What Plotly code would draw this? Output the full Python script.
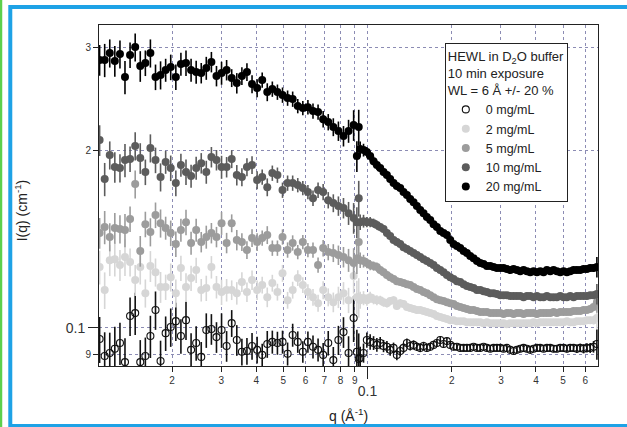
import plotly.graph_objects as go

# ---------------- data ----------------
q_low = [0.01102, 0.01149, 0.01198, 0.01249, 0.01303, 0.01358, 0.01416, 0.01477, 0.01540, 0.01606,
         0.01674, 0.01746, 0.01820, 0.01898, 0.01979, 0.02064, 0.02152, 0.02244, 0.02340, 0.02440,
         0.02544, 0.02652, 0.02766, 0.02884, 0.03007, 0.03135, 0.03269, 0.03409, 0.03555, 0.03706,
         0.03865, 0.04030, 0.04202, 0.04381, 0.04568, 0.04763, 0.04967, 0.05179, 0.05400, 0.05631,
         0.05871, 0.06122, 0.06384, 0.06656, 0.06941, 0.07237, 0.07546, 0.07869, 0.08205, 0.08555,
         0.08921, 0.09302]

q_high = [0.0916, 0.09415, 0.09677, 0.09946, 0.1022, 0.1051, 0.1080, 0.1110, 0.1141, 0.1173,
          0.1205, 0.1239, 0.1273, 0.1309, 0.1345, 0.1383, 0.1421, 0.1461, 0.1501, 0.1543,
          0.1586, 0.1630, 0.1676, 0.1722, 0.1770, 0.1820, 0.1870, 0.1922, 0.1976, 0.2031,
          0.2087, 0.2145, 0.2205, 0.2266, 0.2329, 0.2394, 0.2461, 0.2529, 0.2600, 0.2672,
          0.2746, 0.2823, 0.2901, 0.2982, 0.3065, 0.3150, 0.3238, 0.3328, 0.3420, 0.3515,
          0.3613, 0.3714, 0.3817, 0.3923, 0.4032, 0.4144, 0.4260, 0.4378, 0.4500, 0.4625,
          0.4754, 0.4886, 0.5022, 0.5161, 0.5305, 0.5452, 0.5604, 0.5760, 0.5920, 0.6085,
          0.6254, 0.6428, 0.6607]

I0_low = [0.0957, 0.0895, 0.0906, 0.0921, 0.0942, 0.0874, 0.1047, 0.1059, 0.0874, 0.0895,
          0.0968, 0.1072, 0.0878, 0.0979, 0.1003, 0.1026, 0.0968, 0.1030, 0.0917, 0.0942,
          0.0892, 0.0991, 0.0995, 0.0964, 0.0991, 0.0931, 0.1018, 0.0953, 0.0910, 0.0913,
          0.0931, 0.0917, 0.0899, 0.0938, 0.0946, 0.0942, 0.0946, 0.0903, 0.0972, 0.0946,
          0.0910, 0.0946, 0.0928, 0.0917, 0.0899, 0.0942, 0.0881, 0.0953, 0.0983, 0.0906,
          0.1039, 0.0885]
I0_high = [0.0910, 0.0888, 0.0906, 0.0953, 0.0946, 0.0942, 0.0935, 0.0942, 0.0931, 0.0928,
           0.0917, 0.0924, 0.0899, 0.0913, 0.0924, 0.0942, 0.0931, 0.0935, 0.0928, 0.0924,
           0.0931, 0.0924, 0.0928, 0.0935, 0.0942, 0.0953, 0.0938, 0.0949, 0.0935, 0.0928,
           0.0928, 0.0924, 0.0924, 0.0924, 0.0924, 0.0928, 0.0924, 0.0924, 0.0928, 0.0924,
           0.0921, 0.0924, 0.0924, 0.0924, 0.0921, 0.0924, 0.0917, 0.0913, 0.0917, 0.0921,
           0.0924, 0.0921, 0.0917, 0.0921, 0.0924, 0.0924, 0.0921, 0.0924, 0.0924, 0.0921,
           0.0921, 0.0924, 0.0924, 0.0921, 0.0924, 0.0924, 0.0921, 0.0924, 0.0921, 0.0924,
           0.0924, 0.0928, 0.0938]

I2_low = [0.1268, 0.1159, 0.1303, 0.1308, 0.1278, 0.1319, 0.1293, 0.1205, 0.1268, 0.1145,
          0.1273, 0.1243, 0.1173, 0.1173, 0.1219, 0.1145, 0.1263, 0.1173, 0.1215, 0.1253,
          0.1159, 0.1168, 0.1268, 0.1173, 0.1150, 0.1159, 0.1159, 0.1145, 0.1196, 0.1150,
          0.1205, 0.1159, 0.1182, 0.1127, 0.1191, 0.1150, 0.1238, 0.1114, 0.1159, 0.1215,
          0.1182, 0.1150, 0.1127, 0.1101, 0.1159, 0.1127, 0.1105, 0.1127, 0.1145, 0.1114,
          0.1224, 0.1127]
I2_high = [0.1127, 0.1114, 0.1123, 0.1114, 0.1127, 0.1118, 0.1114, 0.1114, 0.1105, 0.1101,
           0.1110, 0.1114, 0.1089, 0.1101, 0.1097, 0.1084, 0.1080, 0.1076, 0.1072, 0.1072,
           0.1068, 0.1064, 0.1059, 0.1055, 0.1047, 0.1043, 0.1039, 0.1035, 0.1030, 0.1030,
           0.1026, 0.1026, 0.1026, 0.1022, 0.1022, 0.1022, 0.1022, 0.1022, 0.1018, 0.1022,
           0.1018, 0.1018, 0.1018, 0.1018, 0.1018, 0.1014, 0.1018, 0.1018, 0.1018, 0.1018,
           0.1018, 0.1018, 0.1018, 0.1022, 0.1018, 0.1022, 0.1022, 0.1022, 0.1022, 0.1022,
           0.1022, 0.1022, 0.1022, 0.1026, 0.1022, 0.1022, 0.1026, 0.1026, 0.1026, 0.1030,
           0.1030, 0.1030, 0.1039]

I5_low = [0.1449, 0.1483, 0.1427, 0.1478, 0.1472, 0.1466, 0.1531, 0.1755, 0.1351, 0.1500,
          0.1455, 0.1555, 0.1506, 0.1478, 0.1449, 0.1388, 0.1466, 0.1512, 0.1394, 0.1466,
          0.1399, 0.1427, 0.1449, 0.1427, 0.1506, 0.1394, 0.1506, 0.1410, 0.1399, 0.1356,
          0.1421, 0.1399, 0.1421, 0.1438, 0.1366, 0.1366, 0.1427, 0.1356, 0.1394, 0.1345,
          0.1399, 0.1356, 0.1356, 0.1278, 0.1366, 0.1345, 0.1340, 0.1329, 0.1319, 0.1303,
          0.1288, 0.1399]
I5_high = [0.1313, 0.1303, 0.1298, 0.1288, 0.1278, 0.1273, 0.1268, 0.1253, 0.1243, 0.1229,
           0.1219, 0.1210, 0.1200, 0.1196, 0.1191, 0.1186, 0.1182, 0.1173, 0.1164, 0.1159,
           0.1150, 0.1145, 0.1136, 0.1127, 0.1118, 0.1114, 0.1110, 0.1105, 0.1101, 0.1097,
           0.1089, 0.1084, 0.1080, 0.1076, 0.1072, 0.1072, 0.1068, 0.1064, 0.1064, 0.1064,
           0.1059, 0.1059, 0.1059, 0.1059, 0.1055, 0.1059, 0.1059, 0.1055, 0.1059, 0.1059,
           0.1055, 0.1059, 0.1059, 0.1059, 0.1055, 0.1059, 0.1059, 0.1059, 0.1059, 0.1064,
           0.1059, 0.1064, 0.1064, 0.1064, 0.1064, 0.1068, 0.1068, 0.1068, 0.1072, 0.1072,
           0.1076, 0.1084, 0.1105]

I10_low = [0.2085, 0.1790, 0.1966, 0.1876, 0.1869, 0.1928, 0.1936, 0.2037, 0.1943, 0.1840,
           0.2021, 0.1928, 0.1804, 0.1913, 0.1869, 0.1762, 0.1891, 0.1840, 0.1811, 0.1869,
           0.1905, 0.1840, 0.1951, 0.1928, 0.1876, 0.1876, 0.1936, 0.1818, 0.1804, 0.1876,
           0.1891, 0.1783, 0.1804, 0.1734, 0.1832, 0.1818, 0.1714, 0.1762, 0.1762, 0.1748,
           0.1728, 0.1701, 0.1661, 0.1714, 0.1701, 0.1648, 0.1629, 0.1611, 0.1598, 0.1566,
           0.1537, 0.1661]
I10_high = [0.1512, 0.1512, 0.1518, 0.1512, 0.1512, 0.1506, 0.1495, 0.1483, 0.1472, 0.1449,
            0.1432, 0.1410, 0.1399, 0.1388, 0.1371, 0.1361, 0.1351, 0.1340, 0.1329, 0.1319,
            0.1308, 0.1298, 0.1288, 0.1278, 0.1263, 0.1253, 0.1243, 0.1229, 0.1219, 0.1210,
            0.1200, 0.1196, 0.1186, 0.1177, 0.1173, 0.1168, 0.1159, 0.1159, 0.1154, 0.1150,
            0.1145, 0.1145, 0.1141, 0.1136, 0.1136, 0.1136, 0.1132, 0.1132, 0.1132, 0.1132,
            0.1127, 0.1132, 0.1132, 0.1127, 0.1132, 0.1127, 0.1127, 0.1132, 0.1127, 0.1127,
            0.1127, 0.1132, 0.1127, 0.1127, 0.1132, 0.1127, 0.1132, 0.1132, 0.1132, 0.1132,
            0.1136, 0.1136, 0.1141]

I20_low = [0.2853, 0.2853, 0.2931, 0.2842, 0.2920, 0.2669, 0.2909, 0.3001, 0.2786, 0.2820,
           0.2931, 0.2669, 0.2690, 0.2743, 0.2775, 0.2669, 0.2809, 0.2820, 0.2743, 0.2722,
           0.2711, 0.2764, 0.2831, 0.2680, 0.2711, 0.2743, 0.2659, 0.2606, 0.2680, 0.2722,
           0.2596, 0.2556, 0.2637, 0.2516, 0.2546, 0.2516, 0.2487, 0.2458, 0.2448, 0.2382,
           0.2363, 0.2372, 0.2336, 0.2327, 0.2263, 0.2237, 0.2194, 0.2160, 0.2118, 0.2160,
           0.2211, 0.2194]
I20_high = [0.1958, 0.2013, 0.2005, 0.1989, 0.1958, 0.1920, 0.1891, 0.1869, 0.1840, 0.1818,
            0.1790, 0.1762, 0.1741, 0.1728, 0.1701, 0.1681, 0.1655, 0.1635, 0.1611, 0.1585,
            0.1566, 0.1543, 0.1524, 0.1500, 0.1483, 0.1460, 0.1449, 0.1438, 0.1410, 0.1388,
            0.1377, 0.1366, 0.1351, 0.1340, 0.1324, 0.1313, 0.1298, 0.1288, 0.1283, 0.1273,
            0.1273, 0.1268, 0.1263, 0.1263, 0.1263, 0.1258, 0.1253, 0.1258, 0.1253, 0.1248,
            0.1253, 0.1248, 0.1243, 0.1248, 0.1243, 0.1248, 0.1243, 0.1253, 0.1248, 0.1253,
            0.1248, 0.1243, 0.1248, 0.1243, 0.1248, 0.1253, 0.1253, 0.1253, 0.1258, 0.1258,
            0.1263, 0.1263, 0.1268]

# relative uncertainties (%) read from error-bar lengths
err_low_pct = [6.0, 6.5, 5.5, 6.0, 5.5, 6.5, 5.0, 5.5, 6.0, 5.0,
               5.5, 5.0, 5.5, 4.5, 5.0, 5.0, 4.5, 5.0, 4.5, 4.5,
               4.0, 4.5, 4.0, 4.0, 4.5, 4.0, 3.5, 4.0, 3.5, 3.5,
               3.5, 3.5, 3.0, 3.5, 3.0, 3.0, 3.0, 3.0, 3.0, 2.8,
               2.8, 2.8, 3.0, 3.0, 3.2, 3.2, 3.5, 3.8, 4.0, 4.5,
               6.0, 7.0]
err_high_pct = [6.0, 3.0, 2.5, 2.0, 2.0, 1.8, 1.8, 1.6, 1.6, 1.5,
                1.5, 1.4, 1.4, 1.3, 1.3, 1.2, 1.2, 1.2, 1.1, 1.1,
                1.1, 1.0, 1.0, 1.0, 1.0, 1.0, 0.9, 0.9, 0.9, 0.9,
                0.9, 0.9, 0.9, 0.8, 0.8, 0.8, 0.8, 0.8, 0.8, 0.8,
                0.8, 0.8, 0.8, 0.8, 0.8, 0.8, 0.8, 0.8, 0.8, 0.8,
                0.8, 0.8, 0.8, 0.8, 0.8, 0.8, 0.8, 0.9, 0.9, 0.9,
                0.9, 0.9, 1.0, 1.0, 1.0, 1.0, 1.1, 1.1, 1.2, 1.2,
                1.3, 1.5, 4.0]

labels = ["0 mg/mL", "2 mg/mL", "5 mg/mL", "10 mg/mL", "20 mg/mL"]
series_low = [I0_low, I2_low, I5_low, I10_low, I20_low]
series_high = [I0_high, I2_high, I5_high, I10_high, I20_high]
err_scale = [1.5, 1.1, 1.0, 1.0, 1.0]

x_ticks = [0.02, 0.03, 0.04, 0.05, 0.06, 0.07, 0.08, 0.09, 0.1, 0.2, 0.3, 0.4, 0.5, 0.6]
x_ticktext = ["2", "3", "4", "5", "6", "7", "8", "9", "", "2", "3", "4", "5", "6"]
y_ticks = [0.09, 0.1, 0.2, 0.3]
y_ticktext = ["9", "", "2", "3"]

# ---------------- styling ----------------
colors = ["#000000", "#d6d6d6", "#9c9c9c", "#5c5c5c", "#000000"]
FONT = "Liberation Sans, Arial, sans-serif"
GRID = "#8c8cb4"

fig = go.Figure()
for k in range(5):
    qv = q_low + q_high
    iv = series_low[k] + series_high[k]
    pv = err_low_pct + err_high_pct
    ev = [v * p / 100.0 * err_scale[k] for v, p in zip(iv, pv)]
    if k == 0:
        marker = dict(symbol="circle-open", size=7, color="#111111", line=dict(width=1.1))
    else:
        marker = dict(symbol="circle", size=8, color=colors[k], line=dict(width=0))
    # the top series also carries the overlay axes that hold the larger "0.1" labels
    axes = dict(xaxis="x2", yaxis="y2") if k == 4 else {}
    fig.add_trace(go.Scatter(
        x=qv, y=iv, mode="markers", name=labels[k], marker=marker,
        error_y=dict(type="data", array=ev, visible=True, color=colors[k] if k else "#111111",
                     thickness=1.6, width=0),
        **axes,
    ))

xr = [-1.960, -0.176]
yr = [-1.0651, -0.4852]

fig.update_layout(
    width=627, height=427,
    margin=dict(l=99, r=29, t=25, b=61),
    paper_bgcolor="white", plot_bgcolor="white",
    font=dict(family=FONT, color="#222222"),
    xaxis=dict(type="log", range=xr, tickmode="array", tickvals=x_ticks, ticktext=x_ticktext,
               ticks="outside", ticklen=5, tickwidth=1, tickcolor="#222",
               tickfont=dict(size=10, family=FONT, color="#333"),
               showgrid=True, gridcolor=GRID, griddash="dot", gridwidth=1,
               showline=True, linecolor="#222", linewidth=1, mirror=True, zeroline=False),
    yaxis=dict(type="log", range=yr, tickmode="array", tickvals=y_ticks, ticktext=y_ticktext,
               ticks="outside", ticklen=5, tickwidth=1, tickcolor="#222",
               tickfont=dict(size=10, family=FONT, color="#333"),
               showgrid=True, gridcolor=GRID, griddash="dot", gridwidth=1,
               showline=True, linecolor="#222", linewidth=1, mirror=True, zeroline=False),
    xaxis2=dict(type="log", range=xr, overlaying="x", anchor="y2", side="bottom",
                tickmode="array", tickvals=[0.1], ticktext=["0.1"],
                ticks="outside", ticklen=12, tickwidth=1, tickcolor="#222",
                tickfont=dict(size=14, family=FONT, color="#333"),
                showgrid=False, showline=False, zeroline=False),
    yaxis2=dict(type="log", range=yr, overlaying="y", anchor="x2", side="left",
                tickmode="array", tickvals=[0.1], ticktext=["0.1"],
                ticks="outside", ticklen=10, tickwidth=1, tickcolor="#222",
                tickfont=dict(size=14, family=FONT, color="#333"),
                showgrid=False, showline=False, zeroline=False),
    showlegend=True,
    legend=dict(
        x=0.693, y=0.947, xanchor="left", yanchor="top",
        bgcolor="white", bordercolor="#222", borderwidth=1,
        font=dict(size=12.5, family=FONT, color="#222"),
        title=dict(text="HEWL in D<sub>2</sub>O buffer<br>10 min exposure<br>WL = 6 Å +/- 20 %",
                   font=dict(size=13, family=FONT, color="#222"), side="top"),
        itemwidth=30, tracegroupgap=0,
    ),
    annotations=[
        dict(text="I(q) (cm<sup>-1</sup>)", xref="paper", yref="paper", x=-0.156, y=0.457,
             xanchor="center", yanchor="middle",
             textangle=-90, showarrow=False, font=dict(size=14, family=FONT, color="#222")),
        dict(text="q (Å<sup>-1</sup>)", xref="paper", yref="paper", x=0.50, y=-0.143,
             xanchor="center", yanchor="middle",
             showarrow=False, font=dict(size=14, family=FONT, color="#222")),
    ],
    shapes=[
        dict(type="rect", xref="paper", yref="paper", x0=-0.1778, x1=1.2, y0=-0.176, y1=1.0528,
             line=dict(color="#1ea2e6", width=4), fillcolor="rgba(0,0,0,0)", layer="above"),
        dict(type="line", xref="paper", yref="paper", x0=-0.1964, x1=-0.1964, y0=-0.2, y1=1.1,
             line=dict(color="#5cd04c", width=2.5), layer="above"),
    ],
)

fig.write_html(
    "out.html",
    config={"displayModeBar": False},
    post_script="document.body.style.margin='0';document.body.style.overflow='hidden';",
)
